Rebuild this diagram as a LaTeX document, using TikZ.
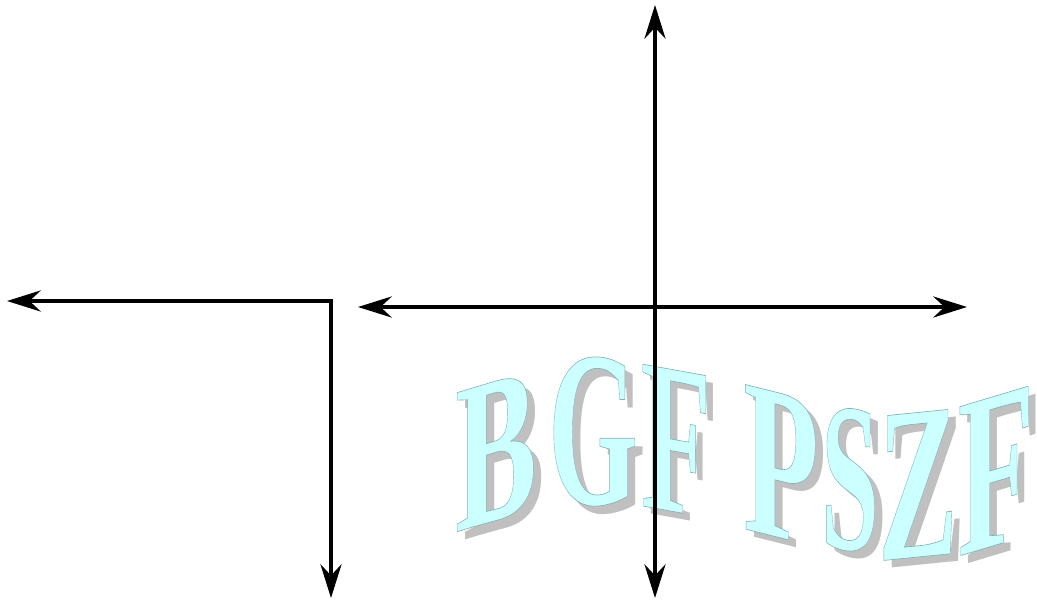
\documentclass[tikz,border=0pt]{standalone}
\usepackage{fontspec}
\setmainfont{Liberation Serif}
\usetikzlibrary{arrows.meta}
\definecolor{facecyan}{HTML}{CCFFFF}
\definecolor{shadowgray}{HTML}{C0C0C0}
% outlined glyphs (fill + thin stroke)
\newcommand{\outlined}[1]{\special{pdf:literal direct 2 Tr 0.3 w 0.5 0.7 0.7 RG}#1\special{pdf:literal direct 0 Tr}}

\begin{document}
\begin{tikzpicture}[x=0.025cm, y=-0.025cm, >={Stealth[length=24pt, width=15pt, inset=8pt]},
    face/.style={anchor=base, inner sep=0pt, text=facecyan, font=\fontsize{100}{100}\selectfont\bfseries},
    shade/.style={anchor=base, inner sep=0pt, text=shadowgray, font=\fontsize{100}{100}\selectfont\bfseries},
    arr/.style={<->, line width=2.5pt, black},
]
  \useasboundingbox (0,0) rectangle (1037,599);

  % === Shadow of the word ===
  \node[shade, yslant=0.30, xscale=0.87, yscale=1.51] (sB)  at (504,528) {B};
  \node[shade, yslant=0.00, xscale=0.82, yscale=1.58] (sG)  at (601,512) {G};
  \node[shade, yslant=-0.18, xscale=0.82, yscale=1.54] (sF1) at (684,520) {F};
  \node[shade, yslant=-0.25, xscale=0.88, yscale=1.57] (sP)  at (789,546) {P};
  \node[shade, yslant=-0.05, xscale=0.74, yscale=1.51] (sS)  at (858,557) {S};
  \node[shade, yslant=0.10, xscale=0.85, yscale=1.57] (sZ)  at (926,565) {Z};
  \node[shade, yslant=0.30, xscale=0.89, yscale=1.62] (sF2) at (1004,553) {F};

  % === Word ===
  \node[face, yslant=0.30, xscale=0.87, yscale=1.51] (B)  at (496,520) {\outlined{B}};
  \node[face, yslant=0.00, xscale=0.82, yscale=1.58] (G)  at (593,504) {\outlined{G}};
  \node[face, yslant=-0.18, xscale=0.82, yscale=1.54] (F1) at (676,512) {\outlined{F}};
  \node[face, yslant=-0.25, xscale=0.88, yscale=1.57] (P)  at (781,538) {\outlined{P}};
  \node[face, yslant=-0.05, xscale=0.74, yscale=1.51] (S)  at (850,549) {\outlined{S}};
  \node[face, yslant=0.10, xscale=0.85, yscale=1.57] (Z)  at (918,557) {\outlined{Z}};
  \node[face, yslant=0.30, xscale=0.89, yscale=1.62] (F2) at (996,545) {\outlined{F}};

  % === Arrows ===
  \coordinate (lbot) at (331,598);
  \coordinate (lcorner) at (331,301);
  \coordinate (lleft) at (7,301);
  \coordinate (hleft) at (358,307);
  \coordinate (hright) at (967,307);
  \coordinate (vtop) at (655,5);
  \coordinate (vbot) at (655,598);

  \draw[arr] (lbot) -- (lcorner) -- (lleft);
  \draw[arr] (hleft) -- (hright);
  \draw[arr] (vtop) -- (vbot);
\end{tikzpicture}
\end{document}
